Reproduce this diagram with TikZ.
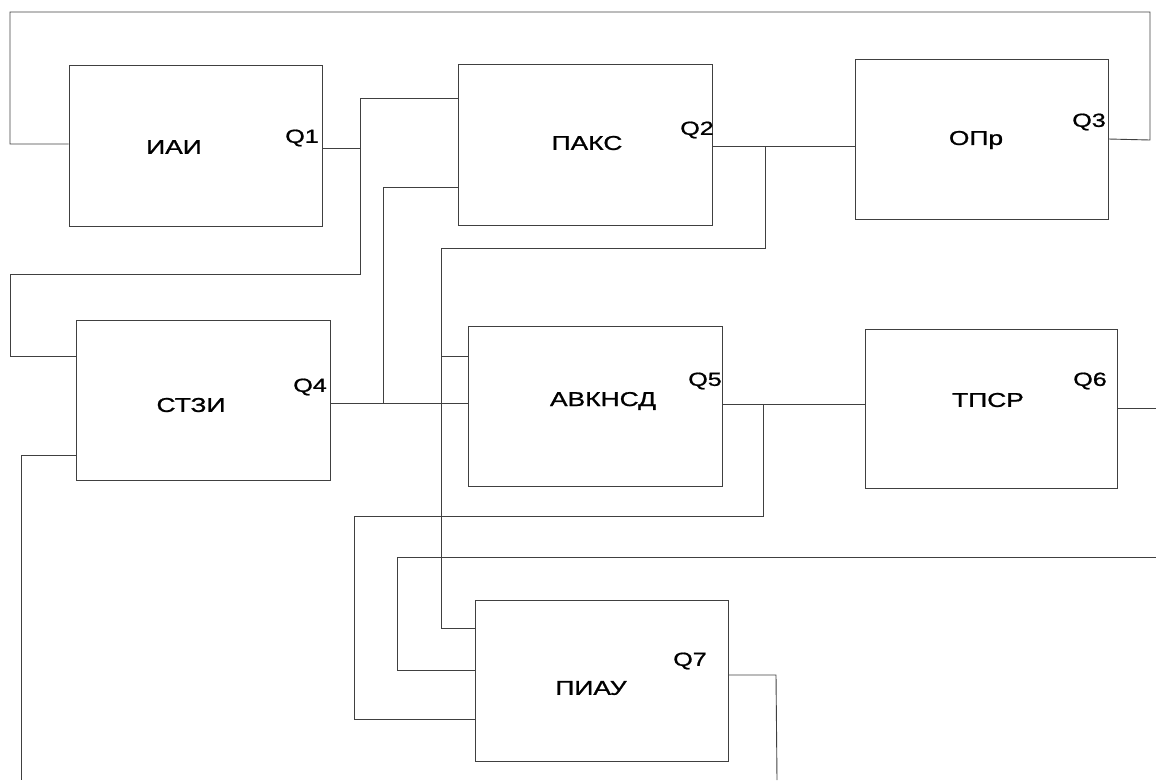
\documentclass[tikz,border=0pt]{standalone}
\usepackage{fontspec}
\setmainfont{Liberation Sans}
\newfontfamily\labelfont{Liberation Sans}[FakeBold=0.9]
\newcommand{\widetext}[1]{\scalebox{1.32}[1]{#1}}
\begin{document}
\begin{tikzpicture}[x=1pt,y=-1pt,
  block/.style={draw=black!75,line width=0.9pt,rectangle,inner sep=0pt,fill=none},
  wire/.style={draw=black!75,line width=0.9pt},
  title/.style={inner sep=0pt,font=\labelfont\fontsize{20}{22}\selectfont},
  port/.style={inner sep=0pt,font=\labelfont\fontsize{19}{21}\selectfont}]
\useasboundingbox (0,0) rectangle (1156,780);

% blocks
\node[block,minimum width=253pt,minimum height=161pt] (iai)  at (195.5,145.5) {};
\node[block,minimum width=254pt,minimum height=161pt] (paks) at (585,144.5) {};
\node[block,minimum width=253pt,minimum height=160pt] (opr)  at (981.5,139) {};
\node[block,minimum width=254pt,minimum height=160pt] (stzi) at (203,400) {};
\node[block,minimum width=254pt,minimum height=160pt] (avk)  at (595,406) {};
\node[block,minimum width=252pt,minimum height=159pt] (tpsr) at (991,408.5) {};
\node[block,minimum width=253pt,minimum height=161pt] (piau) at (601.5,680.5) {};

% block titles
\node[title] (tiai)  at (174,147) {\widetext{ИАИ}};
\node[title] (tpaks) at (587,143) {\widetext{ПАКС}};
\node[title] (topr)  at (976,140) {\widetext{ОПр}};
\node[title] (tstzi) at (191,405) {\widetext{СТЗИ}};
\node[title] (tavk)  at (603,401) {\widetext{АВКНСД}};
\node[title] (ttpsr) at (988,400) {\widetext{ТПСР}};
\node[title] (tpiau) at (591,688) {\widetext{ПИАУ}};

% outputs
\node[port] (q1) at (302,138) {\widetext{Q1}};
\node[port] (q2) at (697,130) {\widetext{Q2}};
\node[port] (q3) at (1089,122) {\widetext{Q3}};
\node[port] (q4) at (310,387) {\widetext{Q4}};
\node[port] (q5) at (705,381) {\widetext{Q5}};
\node[port] (q6) at (1090,381) {\widetext{Q6}};
\node[port] (q7) at (690,661) {\widetext{Q7}};

% free ends at the border
\coordinate (e6) at (1156,408);
\coordinate (eb) at (1156,557);
\coordinate (e7) at (777,780);
\coordinate (el) at (21,780);

% feedback from Q3 to the input of ИАИ
\draw[wire] (opr.east) -- (1150,140) -- (1150,12) -- (10,12) -- (10,144) -- (iai.west |- 0,144);

% Q1 bus
\draw[wire] (iai.east |- 0,148) -- (360,148);
\draw[wire] (paks.west |- 0,98) -- (360,98) -- (360,274) -- (10,274) -- (10,356) -- (stzi.west |- 0,356);

% Q2 bus
\draw[wire] (paks.east |- 0,146) -- (opr.west |- 0,146);
\draw[wire] (765,146) -- (765,248) -- (441,248) -- (441,628) -- (piau.west |- 0,628);
\draw[wire] (441,356) -- (avk.west |- 0,356);

% Q4 bus
\draw[wire] (stzi.east |- 0,403) -- (avk.west |- 0,403);
\draw[wire] (383,403) -- (383,187) -- (paks.west |- 0,187);

% Q5 bus
\draw[wire] (avk.east |- 0,404) -- (tpsr.west |- 0,404);
\draw[wire] (763,404) -- (763,516) -- (354,516) -- (354,719) -- (piau.west |- 0,719);

% Q6 output
\draw[wire] (tpsr.east |- 0,408) -- (e6);

% external input of ПИАУ
\draw[wire] (eb) -- (397,557) -- (397,670) -- (piau.west |- 0,670);

% Q7 output
\draw[wire] (piau.east |- 0,675) -- (776,675) -- (e7);

% lower input of СТЗИ
\draw[wire] (stzi.west |- 0,455) -- (21,455) -- (el);
\end{tikzpicture}
\end{document}
